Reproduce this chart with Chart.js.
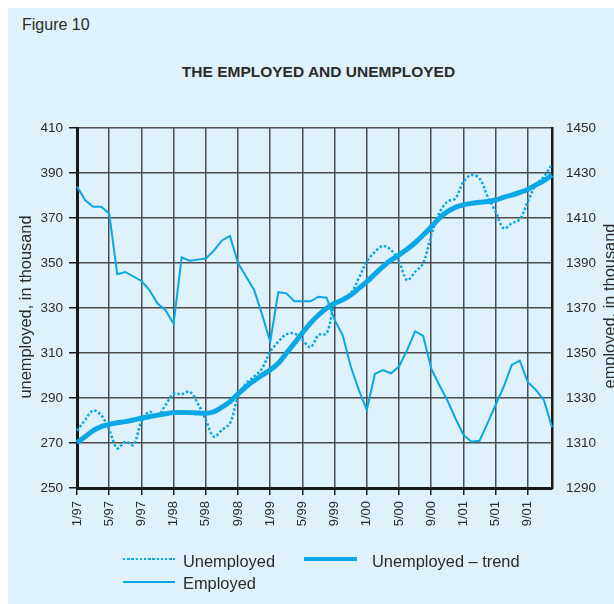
<!DOCTYPE html>
<html>
<head>
<meta charset="utf-8">
<script src="https://cdn.jsdelivr.net/npm/chart.js@4/dist/chart.umd.min.js"></script>
<style>
    html, body { margin: 0; padding: 0; width: 614px; height: 604px; overflow: hidden; background: #fff; }
    body { position: relative; font-family: "Liberation Sans", Arial, sans-serif; color: #2b2b2b; }
    #panel { position: absolute; left: 8px; top: 8px; width: 606px; height: 596px; background: #dff1fb; }
    #chart { position: absolute; left: 0; top: 0; }
    .txt { position: absolute; white-space: nowrap; }
    .lgline { position: absolute; }
</style>
</head>
<body>
<div id="panel"></div>
<div class="txt" style="left:22px; top:16.5px; font-size:16px; line-height:16px;">Figure 10</div>
<div class="txt" style="left:318.5px; top:63.6px; font-size:15.5px; line-height:15.5px; font-weight:bold; transform:translateX(-50%);">THE EMPLOYED AND UNEMPLOYED</div>
<canvas id="chart" width="614" height="604"></canvas>

<!-- legend -->
<div class="lgline" id="lgDotted" style="left:123px; top:557.8px; width:52px; height:2.5px;"></div>
<div class="txt" style="left:183px; top:552.8px; font-size:16.4px; line-height:16.4px;">Unemployed</div>
<div class="lgline" id="lgTrend" style="left:304px; top:557px; width:53px; height:4px;"></div>
<div class="txt" style="left:372px; top:552.8px; font-size:16.4px; line-height:16.4px;">Unemployed – trend</div>
<div class="lgline" id="lgSolid" style="left:123px; top:580.7px; width:52px; height:2px;"></div>
<div class="txt" style="left:183px; top:574.8px; font-size:16.4px; line-height:16.4px;">Employed</div>

<script>
//---------------------------------
//Data (monthly, 1/97 - 12/01)
const months = [];
for (let y = 97; y <= 101; y++) {
    for (let m = 1; m <= 12; m++) {
        months.push(m + '/' + String(y % 100).padStart(2, '0'));
    }
}

const unemployed = [
    275.5, 280.2, 284.4, 282.4, 275.8, 267.6, 270.6, 269.1, 279.5, 283.9, 282.0, 286.9,
    291.8, 291.7, 292.8, 287.6, 280.2, 272.8, 275.8, 278.7, 290.6, 296.5, 299.5, 303.2,
    310.6, 315.0, 318.3, 318.7, 315.8, 312.6, 318.0, 318.7, 331.3, 334.3, 336.5, 343.2,
    350.6, 355.0, 357.6, 355.8, 350.6, 342.4, 346.1, 349.9, 362.4, 372.1, 377.3, 378.7,
    386.1, 389.1, 387.6, 379.5, 372.8, 365.4, 367.6, 369.4, 377.3, 384.7, 388.4, 394.0
];

const unemployedTrend = [
    270.1, 272.8, 275.5, 277.3, 278.3, 279.0, 279.5, 280.2, 281.0, 281.7, 282.4, 283.0,
    283.5, 283.6, 283.5, 283.3, 283.2, 283.9, 285.9, 288.4, 291.8, 295.0, 297.7, 300.2,
    302.4, 305.4, 309.9, 314.3, 319.0, 323.3, 326.9, 329.9, 332.1, 333.6, 335.8, 338.7,
    341.7, 345.1, 348.4, 351.3, 353.6, 356.1, 359.0, 362.4, 366.1, 369.9, 372.8, 374.7,
    375.8, 376.5, 377.0, 377.3, 378.0, 379.2, 380.2, 381.4, 382.7, 384.7, 386.6, 389.1
];

const employed = [
    1424, 1418, 1415, 1415, 1412, 1385, 1386, 1384, 1382, 1378, 1372, 1369,
    1363, 1392.5, 1391, 1391.5, 1392, 1395.5, 1400, 1402, 1390, 1384, 1378, 1367,
    1355, 1377, 1376.5, 1373, 1373, 1373, 1375, 1374.6, 1364.7, 1358, 1344, 1333.6,
    1324.7, 1340.7, 1342.4, 1341, 1344, 1351.3, 1359.6, 1357.6, 1343, 1335.8, 1329, 1321,
    1313.6, 1310.6, 1311, 1318.8, 1327, 1335, 1344.7, 1346.6, 1337, 1333.6, 1329, 1317
];

const leftTicks = { min: 250, max: 410, step: 20 };
const rightTicks = { min: 1290, max: 1450, step: 20 };
const tickEvery = 4;
const leftTitle = 'unemployed, in thousand';
const rightTitle = 'employed, in thousand';
//---------------------------------

const lineColor = '#0aa7e6';
const gridColor = '#4d4d4d';
const axisColor = '#1a1a1a';
const labelColor = '#2b2b2b';
const fontFamily = '"Liberation Sans", Arial, sans-serif';

//Start legend samples
document.getElementById('lgDotted').style.background =
    'repeating-linear-gradient(90deg, ' + lineColor + ' 0 2.5px, transparent 2.5px 4.2px)';
document.getElementById('lgTrend').style.background = lineColor;
document.getElementById('lgSolid').style.background = lineColor;
//End legend samples

//Both axis titles read bottom to top, so draw them by hand
const axisTitles = {
    id: 'axisTitles',
    afterDraw(chart) {
        const c = chart.ctx;
        const area = chart.chartArea;
        const midY = (area.top + area.bottom) / 2 - 1;
        c.save();
        c.font = '16.4px ' + fontFamily;
        c.fillStyle = labelColor;
        c.textAlign = 'center';
        c.textBaseline = 'middle';
        [[26, midY, leftTitle], [610.5, midY - 1, rightTitle]].forEach(([x, y, text]) => {
            c.save();
            c.translate(x, y);
            c.rotate(-Math.PI / 2);
            c.fillText(text, 0, 0);
            c.restore();
        });
        c.restore();
    }
};

const ctx = document.getElementById('chart');

new Chart(ctx, {
    type: 'line',
    data: {
        labels: months,
        datasets: [{
            label: 'Unemployed',
            data: unemployed,
            yAxisID: 'y',
            borderColor: lineColor,
            borderWidth: 2.5,
            borderDash: [2.5, 2],
            tension: 0.35,
            pointRadius: 0
        }, {
            label: 'Unemployed – trend',
            data: unemployedTrend,
            yAxisID: 'y',
            borderColor: lineColor,
            borderWidth: 5,
            cubicInterpolationMode: 'monotone',
            pointRadius: 0
        }, {
            label: 'Employed',
            data: employed,
            yAxisID: 'y1',
            borderColor: lineColor,
            borderWidth: 2,
            tension: 0,
            pointRadius: 0
        }]
    },
    options: {
        responsive: false,
        animation: false,
        devicePixelRatio: 1,
        layout: { padding: { top: 128, left: 0, right: 0, bottom: 0 } },
        plugins: {
            legend: { display: false },
            tooltip: { enabled: false }
        },
        scales: {
            x: {
                grid: {
                    color: (c) => (c.index % tickEvery === 0 ? gridColor : 'rgba(0,0,0,0)'),
                    tickColor: (c) => (c.index % tickEvery === 0 ? axisColor : 'rgba(0,0,0,0)'),
                    lineWidth: 1.5,
                    tickLength: 7
                },
                border: { color: axisColor, width: 3 },
                ticks: {
                    autoSkip: false,
                    minRotation: 90,
                    maxRotation: 90,
                    padding: 6,
                    color: labelColor,
                    font: { family: fontFamily, size: 13 },
                    callback: (v, i) => (i % tickEvery === 0 ? months[i] : '')
                },
                afterFit: (s) => { s.height = 116; }
            },
            y: {
                position: 'left',
                min: leftTicks.min,
                max: leftTicks.max,
                grid: { color: gridColor, lineWidth: 1.5, tickLength: 8, tickColor: axisColor },
                border: { color: axisColor, width: 3 },
                ticks: {
                    stepSize: leftTicks.step,
                    padding: 6,
                    color: labelColor,
                    font: { family: fontFamily, size: 13.5 },
                    callback: (v) => String(v)
                },
                afterFit: (s) => { s.width = 77; }
            },
            y1: {
                position: 'right',
                min: rightTicks.min,
                max: rightTicks.max,
                grid: { drawOnChartArea: false, drawTicks: false },
                border: { color: axisColor, width: 2.5 },
                ticks: {
                    stepSize: rightTicks.step,
                    padding: 14,
                    color: labelColor,
                    font: { family: fontFamily, size: 13.5 },
                    callback: (v) => String(v)
                },
                afterFit: (s) => { s.width = 62; }
            }
        }
    },
    plugins: [axisTitles]
});
</script>
</body>
</html>
